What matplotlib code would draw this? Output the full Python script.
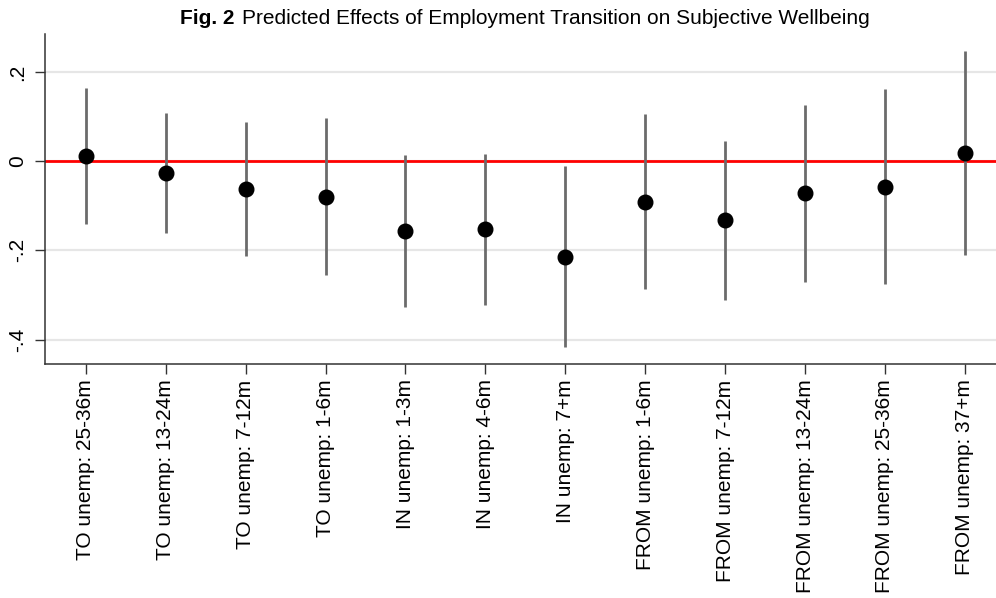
import matplotlib
matplotlib.use("Agg")
import matplotlib.pyplot as plt
from matplotlib.offsetbox import TextArea, HPacker, AnchoredOffsetbox

plt.rcParams['font.family'] = ['Liberation Sans', 'DejaVu Sans']

# predicted effects with 95% intervals, by transition category
labels = ["TO unemp: 25-36m", "TO unemp: 13-24m", "TO unemp: 7-12m", "TO unemp: 1-6m",
          "IN unemp: 1-3m", "IN unemp: 4-6m", "IN unemp: 7+m",
          "FROM unemp: 1-6m", "FROM unemp: 7-12m", "FROM unemp: 13-24m",
          "FROM unemp: 25-36m", "FROM unemp: 37+m"]
estimate = [0.012, -0.026, -0.063, -0.081, -0.156, -0.153, -0.214,
            -0.091, -0.132, -0.072, -0.057, 0.018]
ci_low = [-0.140, -0.161, -0.213, -0.256, -0.327, -0.323, -0.417,
          -0.287, -0.311, -0.271, -0.275, -0.211]
ci_high = [0.165, 0.107, 0.088, 0.096, 0.015, 0.016, -0.011,
           0.105, 0.046, 0.125, 0.161, 0.246]
yticks = [-0.4, -0.2, 0.0, 0.2]
ytick_labels = ["-.4", "-.2", "0", ".2"]

pos = list(range(1, len(labels) + 1))

fig = plt.figure(figsize=(9.96, 5.98), dpi=100)
ax = fig.add_axes([0.0452, 0.391, 0.9548, 0.552])

for y in yticks:
    ax.axhline(y, color="#e6e6e6", lw=1.6, zorder=0)
ax.axhline(0, color="red", lw=2, zorder=1)

ax.vlines(pos, ci_low, ci_high, color="#6b6b6b", lw=2, zorder=2)
ax.plot(pos, estimate, "o", color="black", ms=10.5, zorder=3)

ax.set_xlim(0.49, 12.39)
ax.set_ylim(-0.455, 0.285)
ax.set_yticks(yticks)
ax.set_yticklabels(ytick_labels, rotation=90, va="center", fontsize=15)
ax.set_xticks(pos)
ax.set_xticklabels(labels, rotation=90, fontsize=15)
ax.tick_params(axis="both", direction="out", length=7, width=1, color="#333333")
ax.tick_params(axis="y", pad=6)
ax.tick_params(axis="x", pad=4)

for s in ["top", "right"]:
    ax.spines[s].set_visible(False)
for s in ["left", "bottom"]:
    ax.spines[s].set_color("#333333")
    ax.spines[s].set_linewidth(1.1)

# title: bold figure number followed by regular text
title = HPacker(children=[
    TextArea("Fig. 2", textprops=dict(fontsize=15, fontweight="bold")),
    TextArea("Predicted Effects of Employment Transition on Subjective Wellbeing",
             textprops=dict(fontsize=15)),
], align="baseline", pad=0, sep=5)
anchored = AnchoredOffsetbox(loc="center", child=title, pad=0, frameon=False,
                             bbox_to_anchor=(525 / 996, 0.969),
                             bbox_transform=fig.transFigure, borderpad=0)
fig.add_artist(anchored)

fig.savefig("out.png", dpi=100)
